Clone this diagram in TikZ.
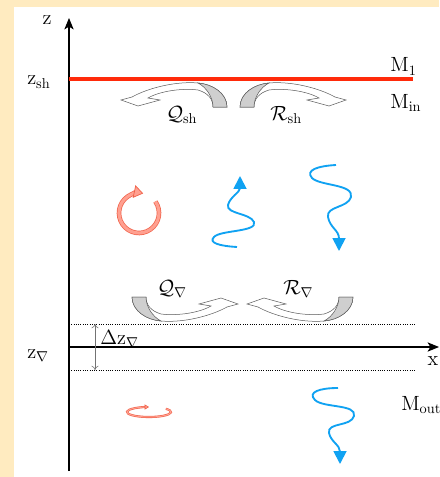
\documentclass[tikz,border=0pt]{standalone}
\usepackage{amsmath,amssymb}
\usepackage{xcolor}
\usepackage{tikz}
\usetikzlibrary{arrows.meta,calc}

\definecolor{paper}{HTML}{FFEBC0}
\definecolor{shred}{HTML}{FF2A0A}
\definecolor{waveblue}{HTML}{10A2F2}
\definecolor{swirlred}{HTML}{F06048}
\definecolor{swirlpink}{HTML}{FFA090}
\definecolor{ribbongray}{HTML}{CFCFCF}

\begin{document}
\begin{tikzpicture}[
    x=0.7pt, y=-0.7pt,
    lbl/.style={font=\Large, inner sep=0pt},
    axis/.style={-{Stealth[length=8pt,width=6.5pt,inset=2pt]}, line width=0.8pt},
    level/.style={dash pattern=on 0.7pt off 0.9pt, line width=0.6pt},
    wave/.style={draw=waveblue, line width=1.3pt, -{Triangle[length=9pt,width=9pt]}},
    swirl/.style={draw=swirlred, double=swirlpink, line width=0.5pt, double distance=2.2pt},
    ribbonline/.style={draw=black!65, line width=0.35pt},
    ribbon/.pic={
        \draw[ribbonline, fill=white] (-7,0) -- (7,0)
            .. controls (7,-14) and (-8,-23) .. (-22,-24)
            .. controls (-44,-26) and (-72,-19) .. (-88,-10)
            -- (-99,-7) -- (-82,-1) -- (-60,-7) -- (-72,-9)
            .. controls (-60,-16) and (-38,-19) .. (-22,-17)
            .. controls (-12,-14) and (-7,-8) .. (-7,0) -- cycle;
        \draw[ribbonline, fill=ribbongray] (-7,0) -- (7,0)
            .. controls (7,-14) and (-8,-23) .. (-22,-24)
            .. controls (-14,-20) and (-7,-10) .. (-7,0) -- cycle;
    },
]
\useasboundingbox (0,0) rectangle (439,477);
\fill[paper] (0,0) rectangle (439,477);
\fill[white] (14,7) rectangle (439,477);

% axes and levels
\coordinate (zbot) at (69,471);
\coordinate (ztop) at (69,18);
\coordinate (orig) at (69,347);
\coordinate (xend) at (439,347);
\coordinate (shL) at (69,79);
\coordinate (shR) at (413,79);
\coordinate (upL) at (69,324);
\coordinate (upR) at (416,324);
\coordinate (loL) at (69,370);
\coordinate (loR) at (416,370);
\coordinate (dzT) at (95,324);
\coordinate (dzB) at (95,370);

\draw[axis] (zbot) -- (ztop);
\draw[axis] (orig) -- (xend);
\draw[shred, line width=2.2pt] (shL) -- (shR);
\draw[level] (upL) -- (upR);
\draw[level] (loL) -- (loR);
\draw[{To[length=3pt,width=5pt]}-{To[length=3pt,width=5pt]}, black!55, line width=0.4pt] (dzT) -- (dzB);

\node[lbl, anchor=base] (zlab) at (47,25) {z};
\node[lbl, anchor=base] (xlab) at (433,365) {x};
\node[lbl, anchor=base west] (zsh) at (27,85) {$\mathrm{z}_{\mathrm{sh}}$};
\node[lbl, anchor=base west] (znab) at (27,358) {$\mathrm{z}_{\nabla}$};
\node[lbl, anchor=base west] (dz) at (100,344) {$\Delta\mathrm{z}_{\nabla}$};
\node[lbl, anchor=base west] (M1) at (390,72) {$\mathrm{M}_1$};
\node[lbl, anchor=base west] (Min) at (390,108) {$\mathrm{M}_{\mathrm{in}}$};
\node[lbl, anchor=base west] (Mout) at (401,410) {$\mathrm{M}_{\mathrm{out}}$};

% fluxes
\pic at (220,107) {ribbon};
\pic[xscale=-1] at (247,107) {ribbon};
\pic[xscale=-1, yscale=-1] at (139,297) {ribbon};
\pic[yscale=-1] at (346,297) {ribbon};
\node[lbl, anchor=base west] (Qsh) at (166,120) {$\mathcal{Q}_{\mathrm{sh}}$};
\node[lbl, anchor=base west] (Rsh) at (270,120) {$\mathcal{R}_{\mathrm{sh}}$};
\node[lbl, anchor=base west] (Qnab) at (157,294) {$\mathcal{Q}_{\nabla}$};
\node[lbl, anchor=base west] (Rnab) at (283,294) {$\mathcal{R}_{\nabla}$};

% eddies
\coordinate (eddy) at (139,213);
\coordinate (eddyout) at (149,412);
\draw[swirl, -{Triangle[length=6.5pt,width=9pt,fill=swirlpink]}] ([shift={(35:14pt)}]eddy) arc[start angle=35, end angle=-282, radius=14pt];
\draw[swirl, line width=0.4pt, double distance=0.7pt, -{Triangle[length=3pt,width=3.5pt,fill=swirlpink]}] ([shift={(40:15.4pt and 3.5pt)}]eddyout) arc[start angle=40, end angle=-270, x radius=15.4pt, y radius=3.5pt];

% waves
\draw[wave] (237,247) .. controls (220,246) and (208,243) .. (214,237)
    .. controls (220,230) and (258,232) .. (254,222)
    .. controls (250,213) and (226,214) .. (228,205)
    .. controls (230,197) and (240,192) .. (240,176);
\draw[wave] (336,165) .. controls (318,166) and (305,170) .. (312,178)
    .. controls (320,186) and (354,184) .. (351,197)
    .. controls (348,208) and (326,206) .. (328,217)
    .. controls (330,228) and (339,230) .. (339,251);
\draw[wave] (338,388) .. controls (320,388) and (307,392) .. (315,400)
    .. controls (323,408) and (357,404) .. (354,416)
    .. controls (351,427) and (327,422) .. (329,433)
    .. controls (331,442) and (340,445) .. (340,464);
\end{tikzpicture}
\end{document}
